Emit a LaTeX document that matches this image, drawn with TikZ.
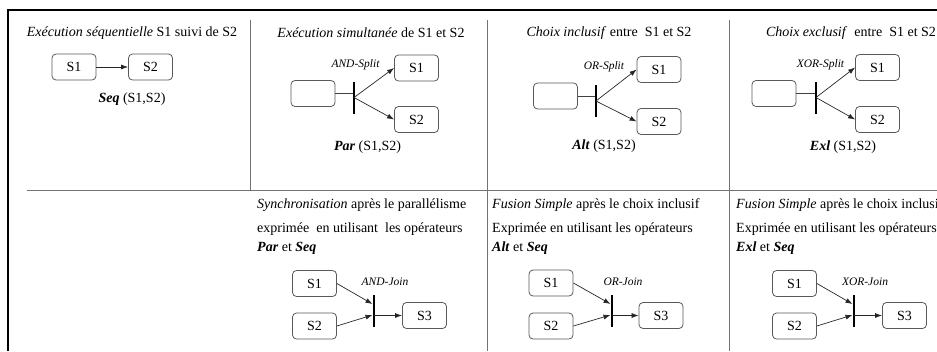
\documentclass[tikz,border=0pt]{standalone}
\usepackage{fontspec}
\setmainfont{Liberation Serif}
\usepackage{tikz}
\usetikzlibrary{positioning, arrows.meta}

\begin{document}
\begin{tikzpicture}[
    x=1pt, y=-1pt,
    every node/.style={font=\fontsize{14}{16}\selectfont},
    task/.style={draw=black!65, rounded corners=4pt, line width=0.8pt,
                 minimum width=44pt, minimum height=26pt, inner sep=0pt},
    gate/.style={fill=black, inner sep=0pt, minimum width=2.6pt, minimum height=32pt},
    flow/.style={-{Latex[length=7pt,width=5pt]}, line width=0.7pt, black!85},
    link/.style={line width=0.7pt, black!75},
    gatelabel/.style={font=\fontsize{11.5}{13}\selectfont\itshape},
    caption/.style={font=\fontsize{14}{16}\selectfont},
    textline/.style={anchor=west, inner sep=0pt, font=\fontsize{14}{16}\selectfont},
    grid/.style={line width=0.8pt, black!55},
    frame/.style={line width=1.8pt, black}
]
\clip (0,0) rectangle (937,351);

% Frame and table lines
\draw[frame] (937,10) -- (8,10) -- (8,351);
\draw[grid] (27,190) -- (937,190);
\draw[grid] (250,20) -- (250,190);
\draw[grid] (487,20) -- (487,351);
\draw[grid] (729,20) -- (729,351);

% Seq
\node (t1) at (132,33) {\textit{Exécution séquentielle} S1 suivi de S2};
\node[task] (a1) at (74,67) {S1};
\node[task] (a2) at (150.5,67) {S2};
\draw[flow] (a1) -- (a2);
\node[caption] (c1) at (132,99) {\textbf{\textit{Seq}} (S1,S2)};

% Par
\node (t2) at (371,33) {\textit{Exécution simultanée} de S1 et S2};
\node[task] (b0) at (313,93.5) {};
\node[gate] (bg) at (354,97.5) {};
\node[task] (b1) at (416.5,68) {S1};
\node[task] (b2) at (416.5,119.5) {S2};
\draw[link] (b0.east) -- (b0.east -| bg.west);
\draw[flow] (bg.center) -- (b1.west);
\draw[flow] (bg.center) -- (b2.west);
\node[gatelabel] at (355.5,65) {AND-Split};
\node[caption] (c2) at (367.5,147) {\textbf{\textit{Par}} (S1,S2)};

% Alt
\node (t3) at (609,33) {\textit{Choix inclusif} entre~ S1 et S2};
\node[task] (d0) at (555.5,96) {};
\node[gate] (dg) at (596,101) {};
\node[task] (d1) at (659,69.5) {S1};
\node[task] (d2) at (659,121.5) {S2};
\draw[link] (d0.east) -- (d0.east -| dg.west);
\draw[flow] (dg.center) -- (d1.west);
\draw[flow] (dg.center) -- (d2.west);
\node[gatelabel] at (604,67) {OR-Split};
\node[caption] (c3) at (604,146) {\textbf{\textit{Alt}} (S1,S2)};

% Exl
\node (t4) at (851,33) {\textit{Choix exclusif}~ entre~ S1 et S2};
\node[task] (e0) at (774,93.5) {};
\node[gate] (eg) at (816,97.5) {};
\node[task] (e1) at (877.5,67.5) {S1};
\node[task] (e2) at (877.5,119.5) {S2};
\draw[link] (e0.east) -- (e0.east -| eg.west);
\draw[flow] (eg.center) -- (e1.west);
\draw[flow] (eg.center) -- (e2.west);
\node[gatelabel] at (820.5,65) {XOR-Split};
\node[caption] (c4) at (843,147) {\textbf{\textit{Exl}} (S1,S2)};

% Par + Seq
\node[textline] (f1) at (257,205) {\textit{Synchronisation} après le parallélisme};
\node[textline] (f2) at (257,229) {exprimée~ en utilisant~ les opérateurs};
\node[textline] (f3) at (257,248) {\textbf{\textit{Par}} et \textbf{\textit{Seq}}};
\node[task] (g1) at (314.5,283.5) {S1};
\node[task] (g2) at (314.5,326) {S2};
\node[gate] (gg) at (374,311) {};
\node[task] (g3) at (424.5,315.5) {S3};
\draw[flow] (g1.east) -- ([yshift=7pt]gg.west);
\draw[flow] (g2.east) -- ([yshift=-4pt]gg.west);
\draw[flow] (gg.center |- g3.west) -- (g3.west);
\node[gatelabel] at (385,282) {AND-Join};

% Alt + Seq
\node[textline] (h1) at (492,205) {\textit{Fusion Simple} après le choix inclusif};
\node[textline] (h2) at (492,229) {Exprimée en utilisant les opérateurs};
\node[textline] (h3) at (492,248) {\textbf{\textit{Alt}} et \textbf{\textit{Seq}}};
\node[task] (k1) at (551,283) {S1};
\node[task] (k2) at (551,326) {S2};
\node[gate] (kg) at (612,311) {};
\node[task] (k3) at (661,315.5) {S3};
\draw[flow] (k1.east) -- ([yshift=7pt]kg.west);
\draw[flow] (k2.east) -- ([yshift=-4pt]kg.west);
\draw[flow] (kg.center |- k3.west) -- (k3.west);
\node[gatelabel] at (623,282) {OR-Join};

% Exl + Seq
\node[textline] (m1) at (736,205) {\textit{Fusion Simple} après le choix inclusif};
\node[textline] (m2) at (736,229) {Exprimée en utilisant les opérateurs};
\node[textline] (m3) at (736,248) {\textbf{\textit{Exl}} et \textbf{\textit{Seq}}};
\node[task] (n1) at (794.5,283.5) {S1};
\node[task] (n2) at (794.5,326) {S2};
\node[gate] (ng) at (854,311) {};
\node[task] (n3) at (904.5,315.5) {S3};
\draw[flow] (n1.east) -- ([yshift=7pt]ng.west);
\draw[flow] (n2.east) -- ([yshift=-4pt]ng.west);
\draw[flow] (ng.center |- n3.west) -- (n3.west);
\node[gatelabel] at (865,282) {XOR-Join};

\end{tikzpicture}
\end{document}
